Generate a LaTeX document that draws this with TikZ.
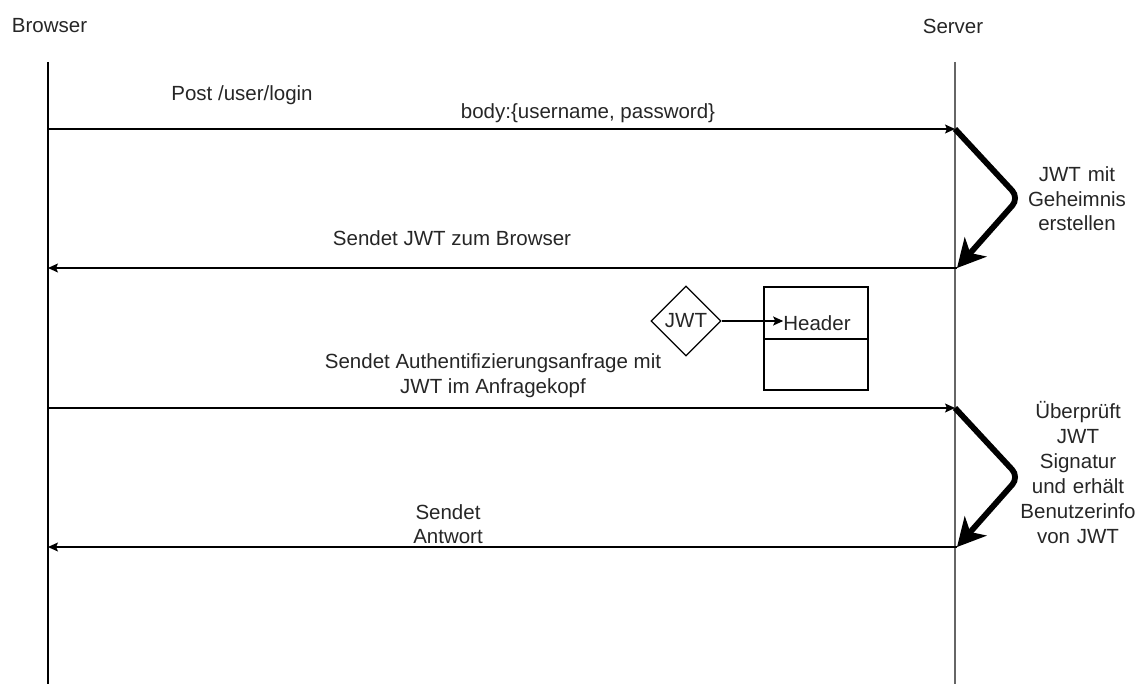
\documentclass[tikz,border=0pt]{standalone}
\usepackage{fontspec}
\setmainfont{Liberation Sans}
\usetikzlibrary{arrows.meta,shapes.geometric}

\begin{document}
\begin{tikzpicture}[x=1pt, y=-1pt,
    every node/.style={text=black!85},
    txt/.style={font=\fontsize{20.5}{24.5}\selectfont, align=center, inner sep=0pt},
    head/.style={font=\fontsize{20.5}{24}\selectfont, inner sep=0pt},
    msg/.style={line width=1.2pt, -{Stealth[length=10pt, width=9pt, inset=2pt]}},
    act/.style={line width=5.8pt, rounded corners=10pt, -{Stealth[length=28pt, width=29pt, inset=8pt]}}]
                \useasboundingbox (0,0) rectangle (1139,684);

                % lifelines
                \node[head] (browser) at (49.5,26) {Browser};
                \node[head] (server) at (953,26) {Server};
                \coordinate (b0) at (48,62);
                \coordinate (b9) at (48,684);
                \coordinate (s0) at (955,62);
                \coordinate (s9) at (955,684);
                \draw[line width=1.2pt] (b0) -- (b9);
                \draw[line width=1.2pt, black!60] (s0) -- (s9);

                % points on the lifelines
                \coordinate (b1) at (48,129);
                \coordinate (s1) at (955,129);
                \coordinate (b2) at (48,268);
                \coordinate (s2) at (957,268);
                \coordinate (b3) at (48,408);
                \coordinate (s3) at (955,408);
                \coordinate (b4) at (48,547);
                \coordinate (s4) at (957,547);
                \coordinate (k1) at (1019,198);
                \coordinate (k2) at (1019,477);

                % login
                \draw[msg] (b1) -- (s1);
                \node[txt] (post) at (242,95) {Post /user/login};
                \node[txt] (body) at (588,113) {body:\{username, password\}};

                \draw[act] (s1) -- (k1) -- (s2);
                \node[txt, text width=110pt] (create) at (1077,199) {JWT mit\\Geheimnis\\erstellen};

                \draw[msg] (s2) -- (b2);
                \node[txt] (send) at (452,238) {Sendet JWT zum Browser};

                % token in the header
                \node[draw, diamond, line width=1.2pt, minimum size=70pt, inner sep=0pt, font=\fontsize{20.5}{24}\selectfont] (jwt) at (686,321) {JWT};
                \node[draw, line width=1.2pt, minimum width=104pt, minimum height=103pt] (box) at (816,338.5) {};
                \draw[line width=1.2pt] (764,339) -- (868,339);
                \node[txt] (hdr) at (817,323) {Header};
                \draw[msg] (jwt.east) -- (jwt.east -| hdr.west);

                \node[txt] (req) at (493,375.5) {Sendet Authentifizierungsanfrage mit\\JWT im Anfragekopf};
                \draw[msg] (b3) -- (s3);

                \draw[act] (s3) -- (k2) -- (s4);
                \node[txt, text width=130pt, font=\fontsize{20.5}{25}\selectfont] (check) at (1078,473) {Überprüft\\JWT\\Signatur\\und erhält\\Benutzerinfo\\von JWT};

                \draw[msg] (s4) -- (b4);
                \node[txt] (answer) at (448,524) {Sendet\\Antwort};
            \end{tikzpicture}
\end{document}
